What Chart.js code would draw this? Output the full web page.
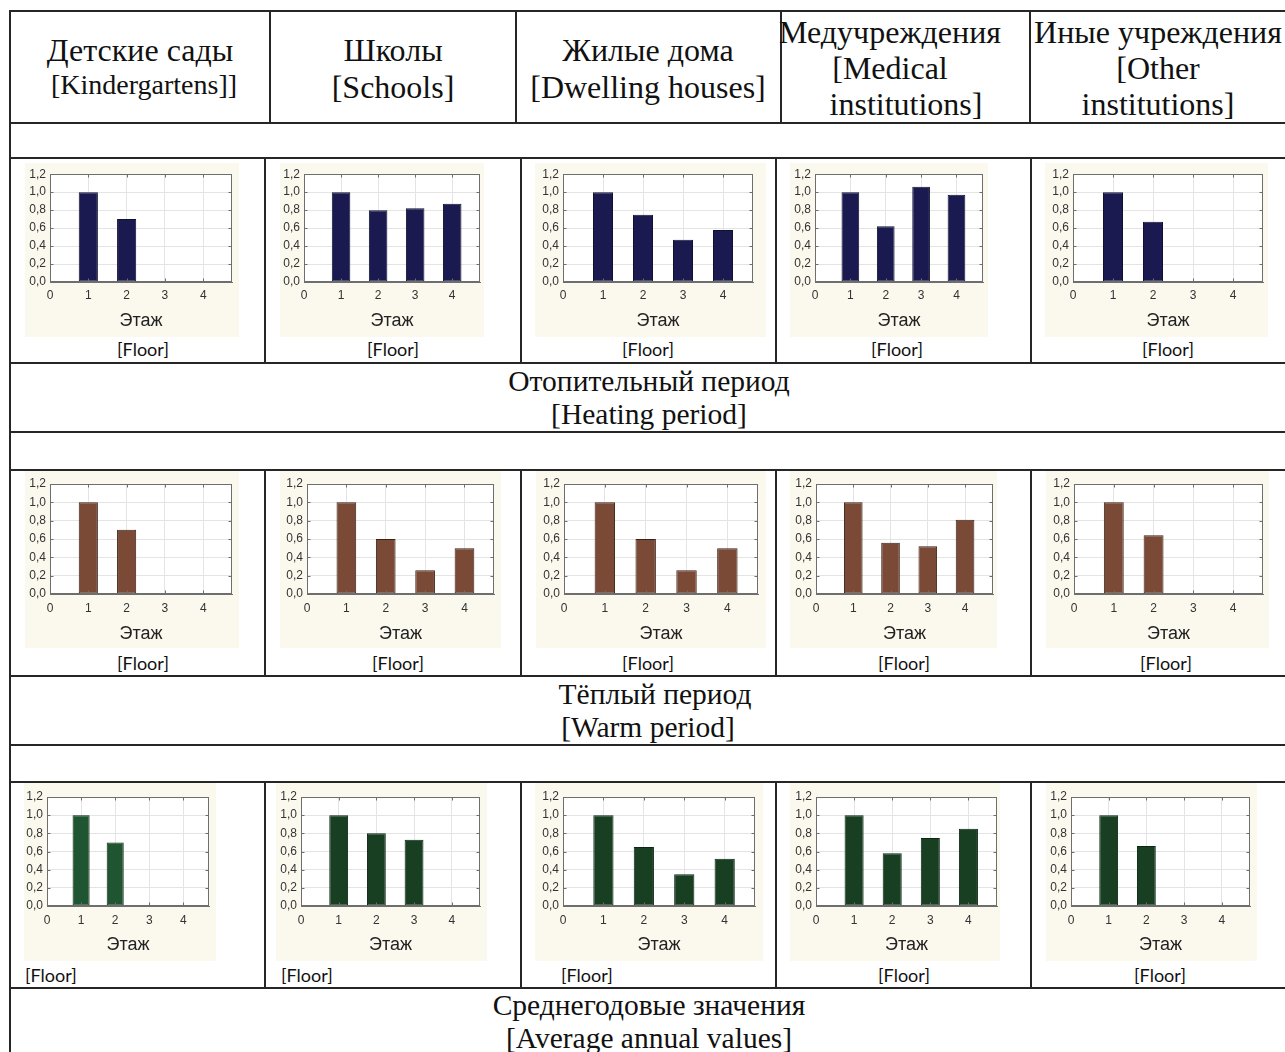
<!DOCTYPE html>
<html>
<head>
<meta charset="utf-8">
<script src="https://cdn.jsdelivr.net/npm/chart.js@4.4.1/dist/chart.umd.min.js"></script>
<style>
  html, body { margin: 0; padding: 0; background: #fff; }
  #page { position: relative; width: 1285px; height: 1052px; overflow: hidden; background: #fff; }
  .ln { position: absolute; background: #262626; }
  .t { position: absolute; white-space: nowrap; line-height: 1; }
  .c { transform: translate(-50%, -50%); }
  .l { transform: translate(0, -50%); }
  .serif { font-family: "Liberation Serif", "Times New Roman", serif; color: #111; }
  .head { font-size: 32px; }
  .head2 { font-size: 28px; }
  .cap { font-size: 29.5px; }
  .floor { font-family: Lato, "Open Sans", sans-serif; font-size: 18px; color: #111; }
  canvas { position: absolute; }
</style>
</head>
<body>
<div id="page"></div>
<script>
// ---- data: relative values by floor ----
const floors = [1, 2, 3, 4];
const xTickValues = [0, 1, 2, 3, 4];
const yTickValues = [0, 0.2, 0.4, 0.6, 0.8, 1.0, 1.2];

const institutionsRu = ['Детские сады', 'Школы', 'Жилые дома', 'Медучреждения', 'Иные учреждения'];
const institutionsEn = ['[Kindergartens]]', '[Schools]', '[Dwelling houses]', '[Medical', '[Other'];
const periodsRu = ['Отопительный период', 'Тёплый период', 'Среднегодовые значения'];
const periodsEn = ['[Heating period]', '[Warm period]', '[Average annual values]'];
const axisTitle = 'Этаж';
const axisTitleEn = '[Floor]';

// heating period
const heatKindergartens = [1.00, 0.70];
const heatSchools = [1.00, 0.80, 0.82, 0.87];
const heatDwellings = [1.00, 0.75, 0.47, 0.58];
const heatMedical = [1.00, 0.62, 1.06, 0.97];
const heatOther = [1.00, 0.67];

// warm period
const warmKindergartens = [1.00, 0.70];
const warmSchools = [1.00, 0.60, 0.26, 0.50];
const warmDwellings = [1.00, 0.60, 0.26, 0.50];
const warmMedical = [1.00, 0.56, 0.52, 0.81];
const warmOther = [1.00, 0.64];

// average annual values
const yearKindergartens = [1.00, 0.70];
const yearSchools = [1.00, 0.80, 0.73];
const yearDwellings = [1.00, 0.65, 0.35, 0.52];
const yearMedical = [1.00, 0.58, 0.75, 0.85];
const yearOther = [1.00, 0.66];

const seriesByRow = [
  [heatKindergartens, heatSchools, heatDwellings, heatMedical, heatOther],
  [warmKindergartens, warmSchools, warmDwellings, warmMedical, warmOther],
  [yearKindergartens, yearSchools, yearDwellings, yearMedical, yearOther]
];

// ---- styling / layout ----
const BEIGE = '#fbf8ee';
const rowColors = [
  ['#1b1a50', '#1b1a50', '#1b1a50', '#1b1a50', '#1b1a50'],
  ['#7a4a36', '#7a4a36', '#7a4a36', '#7a4a36', '#7a4a36'],
  ['#1f5530', '#183f22', '#183f22', '#183f22', '#183f22']
];
const rowBorders = ['#101030', '#3a2218', '#0c2612'];

const rowBoxes = [
  { top: 163, plotTop: 172, plotBottom: 282, bottom: 337, floorY: 349, tickPad: 6, titlePad: 5 },
  { top: 471, plotTop: 484, plotBottom: 594, bottom: 648, floorY: 663, tickPad: 7, titlePad: 3 },
  { top: 783, plotTop: 797, plotBottom: 906, bottom: 961, floorY: 975, tickPad: 7, titlePad: 5 }
];
// [canvasLeft, canvasRight, plotLeft, plotRight]
const colBoxes = [
  [[25, 239, 50, 232], [280, 484, 304, 480], [535, 766, 563, 753], [790, 988, 815, 983], [1045, 1268, 1073, 1263]],
  [[25, 239, 50, 232], [280, 501, 307, 494], [536, 766, 564, 758], [790, 997, 816, 993], [1046, 1269, 1074, 1263]],
  [[24, 216, 47, 209], [276, 487, 301, 480], [535, 763, 563, 755], [790, 1000, 816, 997], [1046, 1257, 1071, 1250]]
];
// [x, align] for the "[Floor]" caption under each chart
const floorLabels = [
  [[143, 'c'], [393, 'c'], [648, 'c'], [897, 'c'], [1168, 'c']],
  [[143, 'c'], [398, 'c'], [648, 'c'], [904, 'c'], [1166, 'c']],
  [[25, 'l'], [281, 'l'], [561, 'l'], [904, 'c'], [1160, 'c']]
];

const page = document.getElementById('page');

function line(x, y, w, h) {
  const d = document.createElement('div');
  d.className = 'ln';
  d.style.left = x + 'px'; d.style.top = y + 'px';
  d.style.width = w + 'px'; d.style.height = h + 'px';
  page.appendChild(d);
}
function text(str, x, y, cls, align) {
  const d = document.createElement('div');
  d.className = 't ' + cls + ' ' + (align || 'c');
  d.style.left = x + 'px'; d.style.top = y + 'px';
  d.textContent = str;
  page.appendChild(d);
}

// ---- table grid ----
[11, 123, 158, 363, 432, 470, 676, 745, 782, 988].forEach(y => line(10, y - 1, 1290, 2));
line(9, 10, 2, 1052);
[270, 516, 781, 1030].forEach(x => line(x - 1, 10, 2, 113));
[[158, 363], [470, 676], [782, 988]].forEach(([a, b]) => {
  [265, 521, 776, 1031].forEach(x => line(x - 1, a, 2, b - a));
});

// ---- header ----
text(institutionsRu[0], 140, 50, 'serif head');
text(institutionsEn[0], 144, 85, 'serif head2');
text(institutionsRu[1], 393, 50, 'serif head');
text(institutionsEn[1], 393, 87, 'serif head');
text(institutionsRu[2], 648, 50, 'serif head');
text(institutionsEn[2], 648, 87, 'serif head');
text(institutionsRu[3], 890, 32, 'serif head');
text(institutionsEn[3], 890, 68, 'serif head');
text('institutions]', 906, 104, 'serif head');
text(institutionsRu[4], 1158, 32, 'serif head');
text(institutionsEn[4], 1158, 68, 'serif head');
text('institutions]', 1158, 104, 'serif head');

// ---- period captions ----
text(periodsRu[0], 649, 382, 'serif cap');
text(periodsEn[0], 649, 415, 'serif cap');
text(periodsRu[1], 655, 695, 'serif cap');
text(periodsEn[1], 648, 728, 'serif cap');
text(periodsRu[2], 649, 1006, 'serif cap');
text(periodsEn[2], 649, 1039, 'serif cap');

// ---- chart panel plugin: beige panel, white plot, frame with inner ticks ----
const panelPlugin = {
  id: 'panel',
  beforeDraw(chart) {
    const { ctx, chartArea: a, width, height } = chart;
    ctx.save();
    ctx.fillStyle = BEIGE;
    ctx.fillRect(0, 0, width, height);
    ctx.fillStyle = '#ffffff';
    ctx.fillRect(a.left, a.top, a.right - a.left, a.bottom - a.top);
    ctx.restore();
  },
  afterDraw(chart) {
    const { ctx, chartArea: a, scales } = chart;
    const L = Math.round(a.left) + 0.5, R = Math.round(a.right) - 0.5;
    const T = Math.round(a.top) + 0.5, B = Math.round(a.bottom) - 0.5;
    ctx.save();
    ctx.strokeStyle = '#6e6e6e';
    ctx.lineWidth = 1;
    ctx.strokeRect(L, T, R - L, B - T);
    ctx.beginPath();
    scales.x.ticks.forEach(t => {
      const px = Math.round(scales.x.getPixelForValue(t.value)) + 0.5;
      ctx.moveTo(px, T); ctx.lineTo(px, T + 3);
      ctx.moveTo(px, B); ctx.lineTo(px, B - 3);
    });
    scales.y.ticks.forEach(t => {
      const py = Math.round(scales.y.getPixelForValue(t.value)) + 0.5;
      ctx.moveTo(L, py); ctx.lineTo(L + 3, py);
      ctx.moveTo(R, py); ctx.lineTo(R - 3, py);
    });
    ctx.stroke();
    ctx.restore();
  }
};

function makeChart(r, c) {
  const rb = rowBoxes[r];
  const [cl, cr, pl, pr] = colBoxes[r][c];
  const values = seriesByRow[r][c];
  const cv = document.createElement('canvas');
  const w = cr - cl, h = rb.bottom - rb.top;
  cv.width = w; cv.height = h;
  cv.style.left = cl + 'px'; cv.style.top = rb.top + 'px';
  cv.style.width = w + 'px'; cv.style.height = h + 'px';
  page.appendChild(cv);

  const tickFont = { family: '"Liberation Sans", Arial, sans-serif', size: 12 };
  new Chart(cv.getContext('2d'), {
    type: 'bar',
    data: {
      datasets: [{
        data: values.map((v, i) => ({ x: floors[i], y: v })),
        backgroundColor: rowColors[r][c],
        borderColor: rowBorders[r],
        borderWidth: 1,
        borderSkipped: false,
        barPercentage: 0.5,
        categoryPercentage: 1.0
      }]
    },
    options: {
      responsive: false,
      animation: false,
      events: [],
      layout: { padding: { top: rb.plotTop - rb.top, right: cr - pr, left: 0, bottom: 0 } },
      plugins: { legend: { display: false }, tooltip: { enabled: false } },
      scales: {
        x: {
          type: 'linear',
          min: 0,
          max: 4.75,
          offset: false,
          grid: { offset: false, color: '#e4e4e4', drawTicks: false },
          border: { color: '#6e6e6e' },
          ticks: {
            stepSize: 1, padding: rb.tickPad, color: '#333', font: tickFont,
            maxRotation: 0, autoSkip: false,
            callback: v => String(v)
          },
          afterBuildTicks(scale) {
            scale.ticks = xTickValues.map(v => ({ value: v }));
          },
          title: {
            display: true, text: axisTitle, color: '#222',
            font: { family: '"Liberation Sans", Arial, sans-serif', size: 18 },
            padding: { top: 0, bottom: rb.titlePad }
          },
          afterFit(scale) { scale.height = rb.bottom - rb.plotBottom; }
        },
        y: {
          min: 0,
          max: 1.2,
          grid: { color: '#e4e4e4', drawTicks: false },
          border: { color: '#6e6e6e' },
          ticks: {
            padding: 4, color: '#333', font: tickFont,
            callback: v => Number(v).toFixed(1).replace('.', ',')
          },
          afterBuildTicks(scale) {
            scale.ticks = yTickValues.map(v => ({ value: v }));
          },
          afterFit(scale) { scale.width = pl - cl; }
        }
      }
    },
    plugins: [panelPlugin]
  });

  const [fx, fa] = floorLabels[r][c];
  text(axisTitleEn, fx, rb.floorY, 'floor', fa);
}

for (let r = 0; r < 3; r++) {
  for (let c = 0; c < 5; c++) makeChart(r, c);
}
</script>
</body>
</html>
